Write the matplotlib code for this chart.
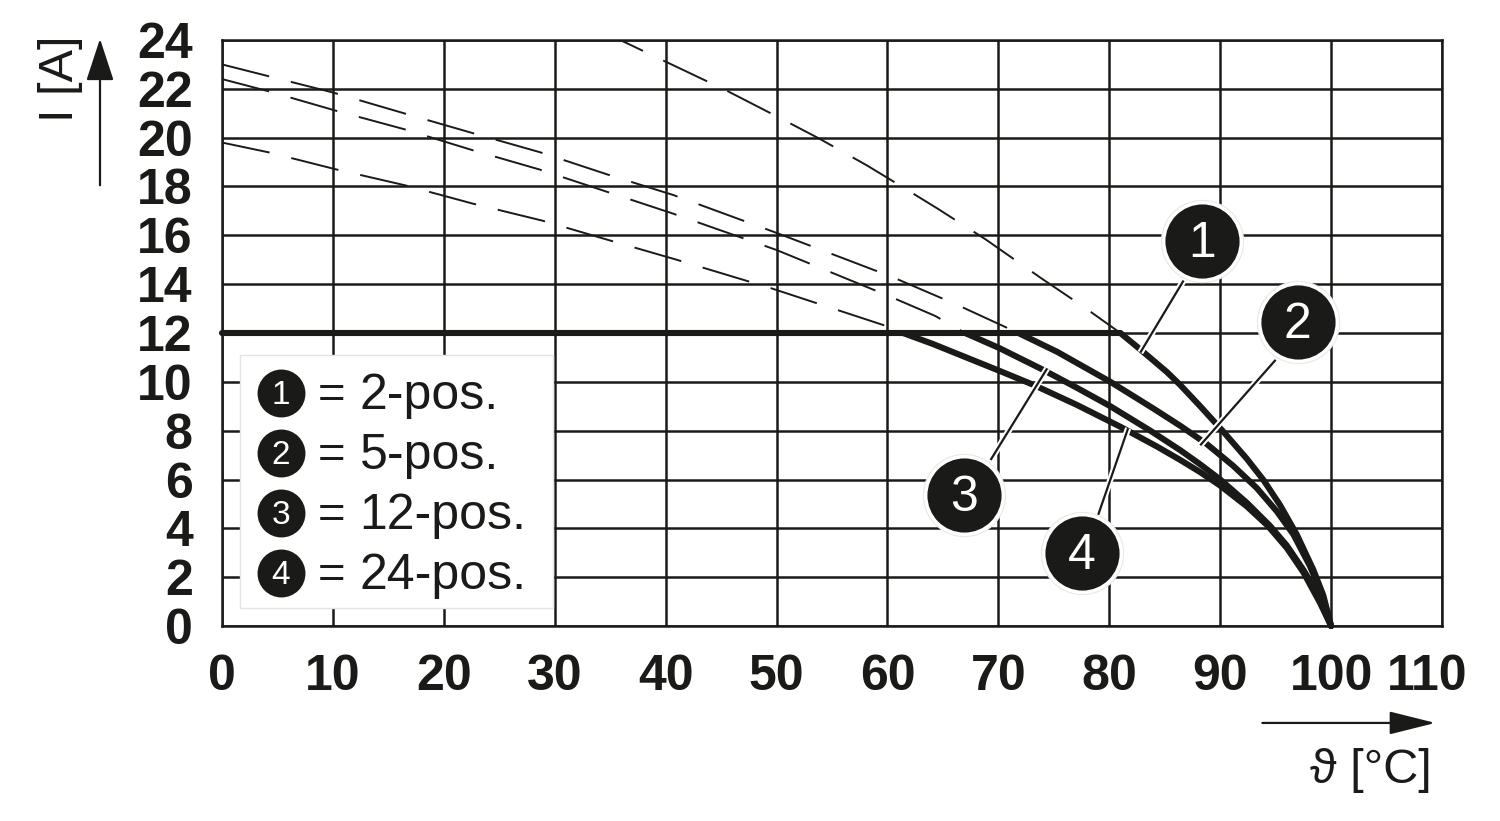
import matplotlib
matplotlib.use("Agg")
import matplotlib.pyplot as plt
from matplotlib.patches import Rectangle
from matplotlib.transforms import ScaledTranslation

INK = "#1a1a18"
SANS = ["Liberation Sans", "DejaVu Sans"]

x_ticks = list(range(0, 111, 10))
y_ticks = list(range(0, 25, 2))
legend_labels = ["2-pos.", "5-pos.", "12-pos.", "24-pos."]

# rated current plateau
plateau_x = [0, 81]
plateau_y = [12, 12]

# solid derating curves
curve1_x = [81, 83, 85.2, 86.4, 88.2, 90.3, 92.4, 93.9, 95.4, 96.9, 98.4, 99.3, 100]
curve1_y = [12, 11.25, 10.4, 9.87, 9.0, 7.95, 6.85, 5.98, 4.95, 3.75, 2.3, 1.25, 0]
curve2_x = [71.8, 75.3, 80.1, 84, 86.4, 88.8, 91.2, 93.3, 95.1, 96.6, 98.1, 99.2, 100]
curve2_y = [12, 11.23, 10.0, 8.9, 8.2, 7.45, 6.55, 5.65, 4.7, 3.75, 2.45, 1.25, 0]
curve3_x = [67, 70.1, 74, 77.1, 80.1, 83.7, 86.4, 88.2, 90, 92.4, 94.5, 96, 97.5, 99, 100]
curve3_y = [12, 11.38, 10.5, 9.75, 9.0, 8.0, 7.2, 6.62, 6.0, 5.05, 4.1, 3.3, 2.3, 1.15, 0]
curve4_x = [61.4, 64.1, 70.1, 73.2, 77.1, 81, 84.3, 86.4, 88.2, 90, 92.4, 94.3, 96, 97.5, 99, 100]
curve4_y = [12, 11.55, 10.45, 9.87, 9.05, 8.16, 7.35, 6.8, 6.3, 5.75, 4.9, 4.1, 3.2, 2.2, 0.95, 0]

# dashed continuations above 12 A
dash1_x = [35.9, 39.6, 45.4, 49.9, 53.9, 58.2, 61.1, 64.5, 68.8, 74, 77.6, 81]
dash1_y = [24, 23.2, 21.95, 20.9, 19.95, 18.85, 18.05, 17.1, 15.85, 14.2, 13.1, 12]
dash2_x = [0, 10, 16.4, 22.5, 28.7, 34.7, 40.7, 50, 60.4, 66.3, 71.8]
dash2_y = [23, 21.85, 21.0, 20.2, 19.4, 18.5, 17.65, 16.1, 14.3, 13.15, 12]
dash3_x = [0, 4.2, 10.3, 16.4, 22.5, 28.6, 34.6, 40.6, 50, 60.2, 64.3, 67]
dash3_y = [22.4, 21.9, 21.1, 20.35, 19.5, 18.7, 17.8, 16.9, 15.4, 13.5, 12.7, 12]
dash4_x = [0, 4.2, 10.3, 16.5, 22.6, 28.9, 34.9, 41, 49.4, 59.8, 61.4]
dash4_y = [19.8, 19.4, 18.7, 18.05, 17.3, 16.6, 15.8, 15.0, 13.85, 12.3, 12]

# numbered callouts: bubble centre, then leader from bubble to curve
bubble_x = [88.4, 97, 66.9, 77.5]
bubble_y = [15.75, 12.45, 5.35, 3.0]
leader_x = [(86.7, 82.8), (95, 88.2), (69.3, 74.4), (79, 81.7)]
leader_y = [(14.15, 11.2), (10.9, 7.4), (6.8, 10.55), (4.55, 8.1)]

legend_y = [9.54, 7.08, 4.63, 2.17]

plt.rcParams["font.family"] = SANS

fig = plt.figure(figsize=(15, 8.21), dpi=100)
ax = fig.add_axes([222 / 1500, 195 / 821, 1220 / 1500, 586 / 821])
ax.set_xlim(0, 110)
ax.set_ylim(0, 24)
ax.set_xticks(x_ticks)
ax.set_yticks(y_ticks)
ax.tick_params(length=0, labelsize=36, colors=INK)
ax.tick_params(axis="x", pad=20)
ax.tick_params(axis="y", pad=21)
for lab in ax.get_xticklabels() + ax.get_yticklabels():
    lab.set_fontweight("bold")
# last x label sits left of its gridline so it clears "100"
last = ax.get_xticklabels()[-1]
last.set_transform(last.get_transform() + ScaledTranslation(-15 / 100, 0, fig.dpi_scale_trans))
ax.grid(True, color=INK, lw=1.8, zorder=1)
ax.set_axisbelow(True)
for s in ax.spines.values():
    s.set_color(INK)
    s.set_linewidth(1.8)

for dx, dy, off in [(dash1_x, dash1_y, 12), (dash2_x, dash2_y, 0), (dash3_x, dash3_y, 0), (dash4_x, dash4_y, 0)]:
    ax.plot(dx, dy, color=INK, lw=1.4, ls=(off, (25, 11.5)), zorder=3)

ax.plot(plateau_x, plateau_y, color=INK, lw=4.4, solid_capstyle="round", clip_on=False, zorder=4)
for cx, cy in [(curve1_x, curve1_y), (curve2_x, curve2_y), (curve3_x, curve3_y), (curve4_x, curve4_y)]:
    ax.plot(cx, cy, color=INK, lw=4.4, solid_joinstyle="round", solid_capstyle="round", clip_on=False, zorder=4)

# legend box
ax.add_patch(Rectangle((1.6, 0.75), 28.2, 10.35, fc="white", ec="#e4e4e4", lw=1, zorder=5))
ax.scatter([5.32] * 4, legend_y, s=1190, color=INK, linewidths=0, zorder=6)
for i, (ly, label) in enumerate(zip(legend_y, legend_labels)):
    ax.text(5.32, ly - 0.11, str(i + 1), color="white", fontsize=24, ha="center", va="center", zorder=7)
    ax.text(8.66, ly - 0.12, "=", color=INK, fontsize=34, ha="left", va="center", zorder=7)
    ax.text(12.4, ly - 0.12, label, color=INK, fontsize=36, ha="left", va="center", zorder=7)

# callouts
for i in range(4):
    ax.plot(leader_x[i], leader_y[i], color="white", lw=4.5, zorder=6, solid_capstyle="butt")
    ax.plot(leader_x[i], leader_y[i], color=INK, lw=1.6, zorder=7, solid_capstyle="butt")
ax.scatter(bubble_x, bubble_y, s=3500, color="white", edgecolors="#e8e8e8", linewidths=0.8, zorder=8, clip_on=False)
ax.scatter(bubble_x, bubble_y, s=2850, color=INK, linewidths=0, zorder=8, clip_on=False)
for i in range(4):
    ax.text(bubble_x[i], bubble_y[i] - 0.12, str(i + 1), color="white", fontsize=36, ha="center", va="center", zorder=9)

# axis arrows and unit labels
ax.annotate("", xy=(-11, 24.05), xytext=(-11, 18.05), annotation_clip=False,
            arrowprops=dict(arrowstyle="-|>,head_length=1.1,head_width=0.36", color=INK, lw=1.6, mutation_scale=24, shrinkA=0, shrinkB=0))
ax.annotate("", xy=(109.4, -3.97), xytext=(93.8, -3.97), annotation_clip=False,
            arrowprops=dict(arrowstyle="-|>,head_length=1.2,head_width=0.3", color=INK, lw=1.6, mutation_scale=24, shrinkA=0, shrinkB=0))
ax.text(-14.6, 22.4, "I [A]", rotation=90, color=INK, fontsize=35, ha="center", va="center", clip_on=False)
ax.text(109.1, -5.9, "\u03d1 [°C]", color=INK, fontsize=35, ha="right", va="center", clip_on=False)

fig.savefig("out.png", dpi=100)
plt.close(fig)
